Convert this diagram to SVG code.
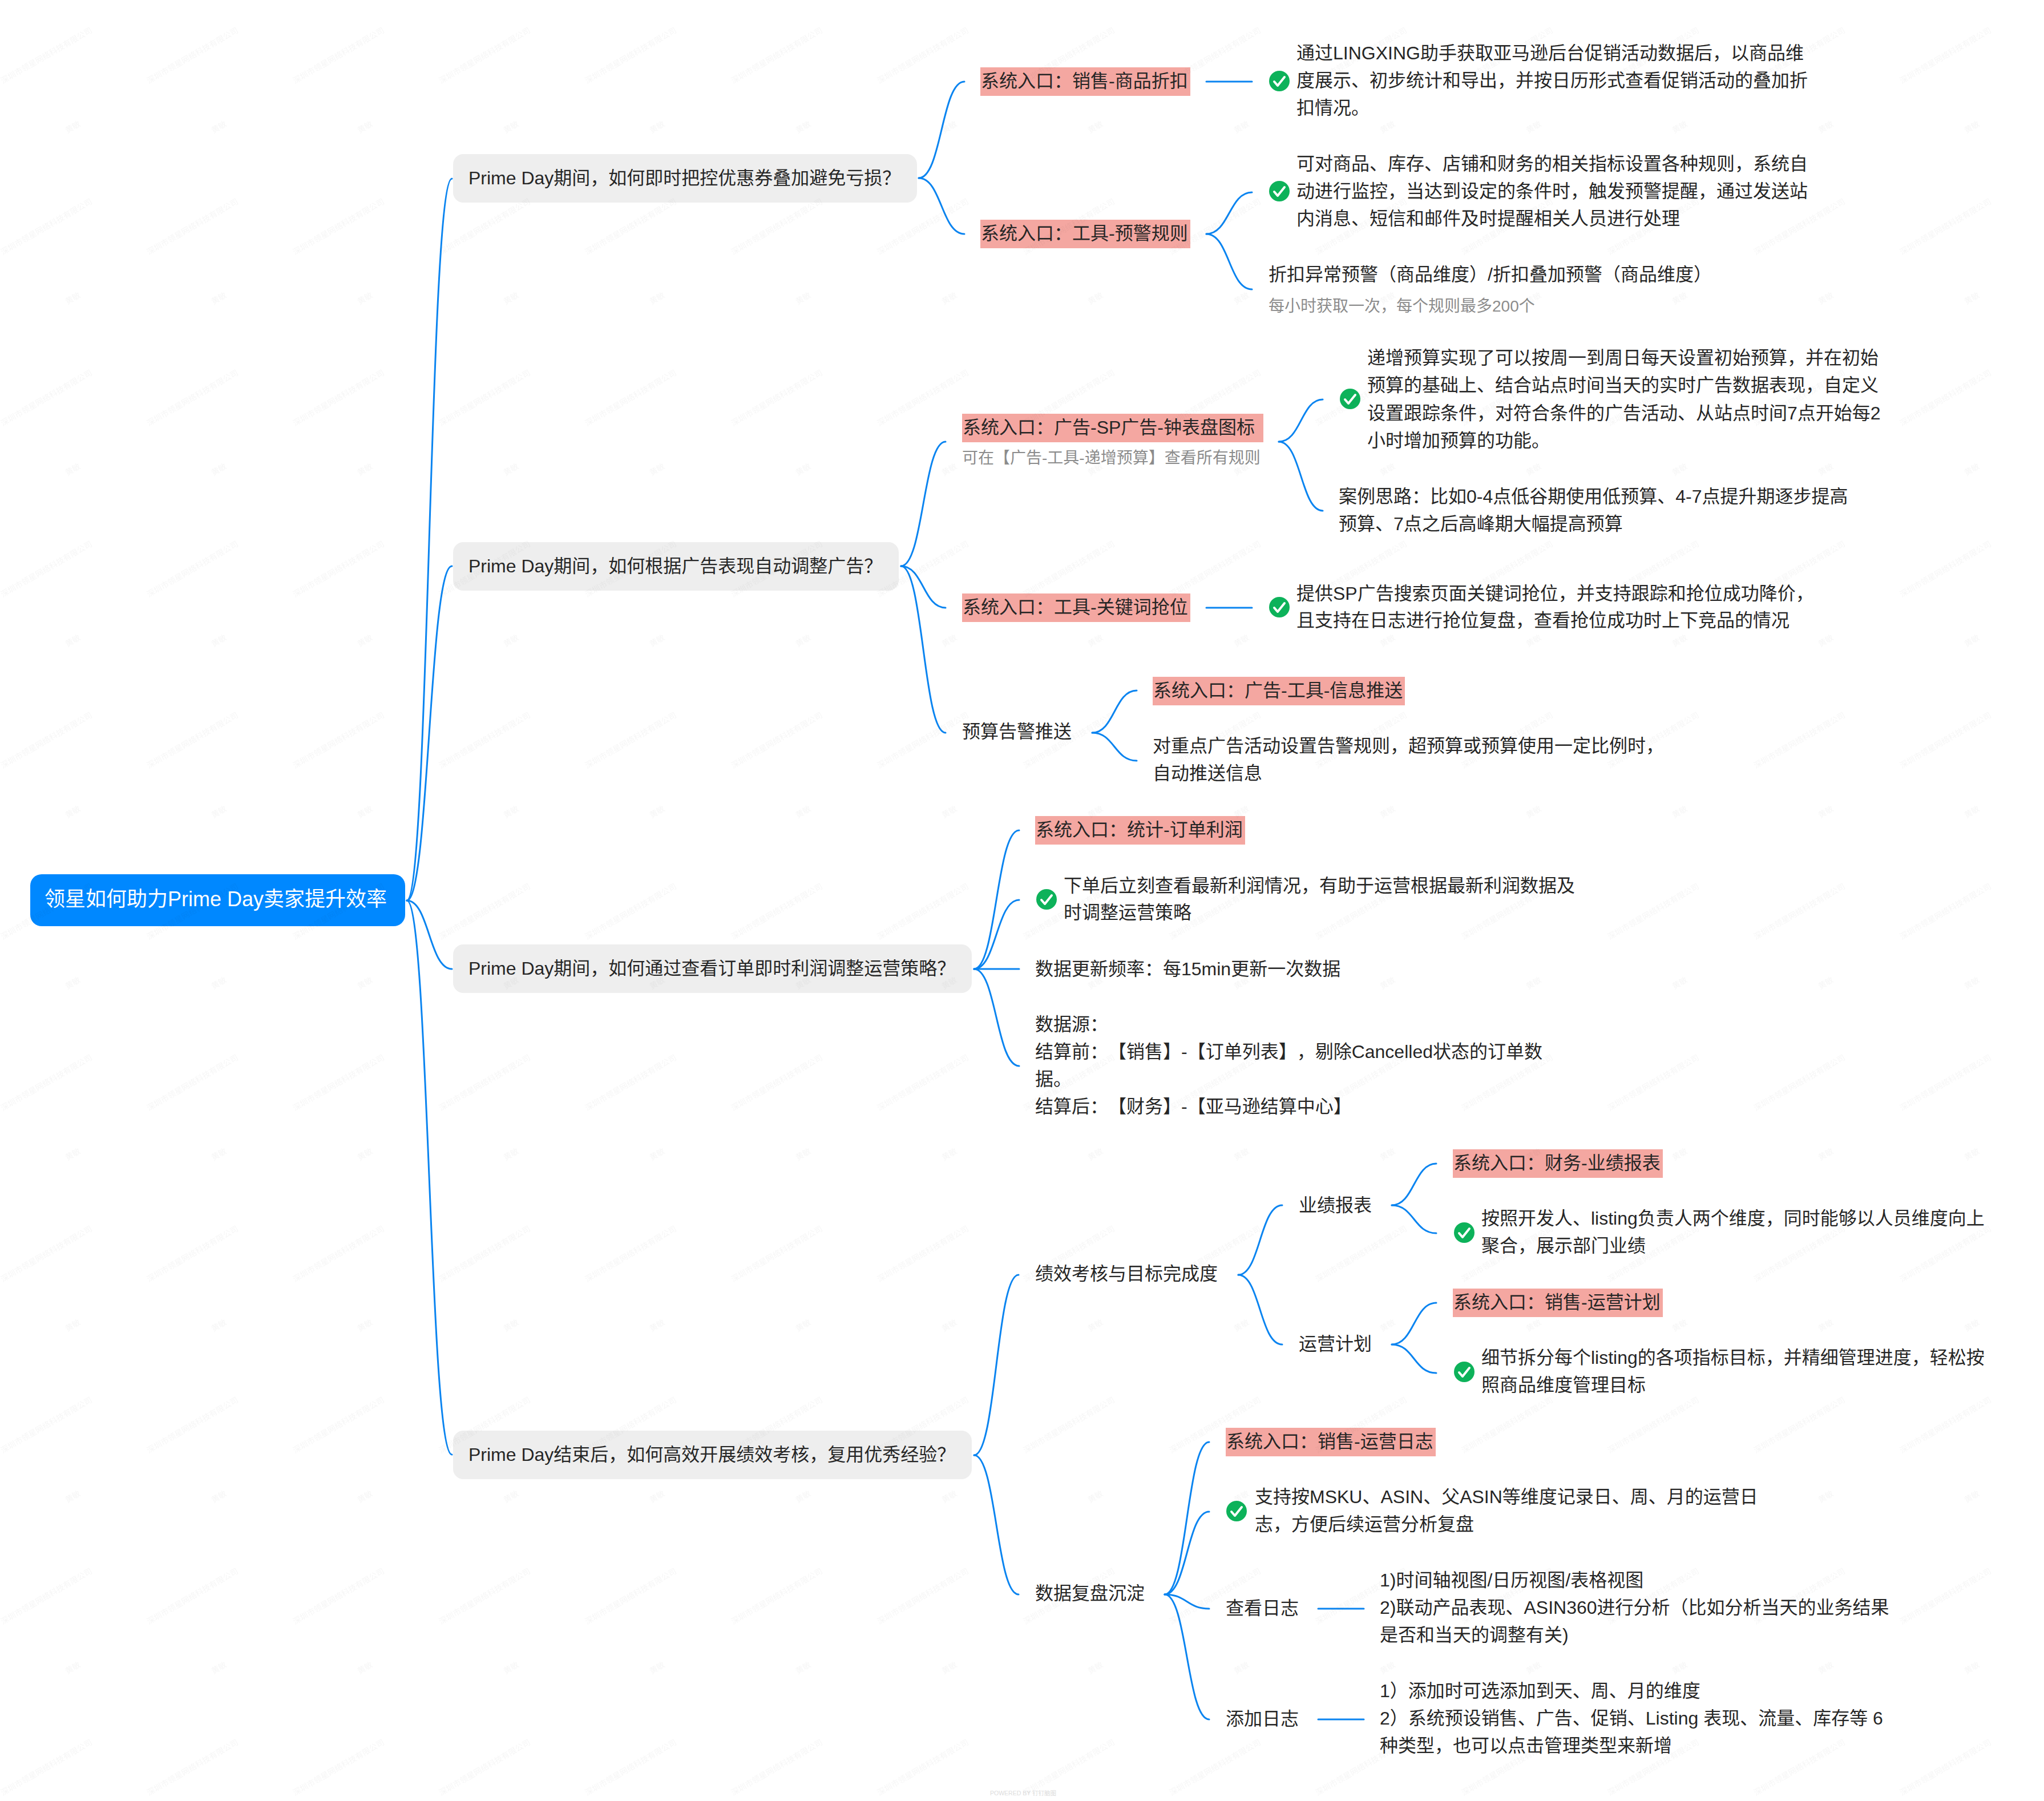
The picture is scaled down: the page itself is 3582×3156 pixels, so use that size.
<svg xmlns="http://www.w3.org/2000/svg" width="3582" height="3156" viewBox="0 0 3582 3156">
<style>
text{font-family:"Liberation Sans","Noto Sans CJK SC",sans-serif;font-size:32px;fill:#262626;text-spacing-trim:space-all}
.root{font-size:36px;fill:#fff}
.note{font-size:28px;fill:#8c8c8c}
.wm{font-size:14px;fill:#000;fill-opacity:.035}
.pw{font-size:10.5px;fill:#dcdcdc}
.c{fill:none;stroke:#0a84f0;stroke-width:3;stroke-linecap:round}
.pink{fill:#f4a7a1}
.box{fill:#eee}
</style>
<defs>
<g id="ok"><circle r="18" fill="#0db25a"/><path d="M-9 1 L-3 8 L9 -7" fill="none" stroke="#fff" stroke-width="4" stroke-linecap="round" stroke-linejoin="round"/></g>
<pattern id="wmark" patternUnits="userSpaceOnUse" width="256" height="300">
<text class="wm" transform="translate(5 147) rotate(-30)">深圳市领星网络科技有限公司</text>
<text class="wm" transform="translate(118 234) rotate(-30)">黄敏</text>
</pattern>
</defs>
<rect width="3582" height="3156" fill="#fff"/>
<g id="connectors">
<path class="c" d="M713 1578C752 1578 752 313 792 313"/>
<path class="c" d="M713 1578C752 1578 752 992 792 992"/>
<path class="c" d="M713 1578C752 1578 752 1698 792 1698"/>
<path class="c" d="M713 1578C752 1578 752 2549 792 2549"/>
<path class="c" d="M1610 312C1650 312 1650 143 1690 143"/>
<path class="c" d="M1610 312C1650 312 1650 410 1690 410"/>
<path class="c" d="M2114 143H2194"/>
<path class="c" d="M2114 410C2154 410 2154 337 2194 337"/>
<path class="c" d="M2114 410C2154 410 2154 507 2194 507"/>
<path class="c" d="M1579 992C1618 992 1618 774 1657 774"/>
<path class="c" d="M1579 992C1618 992 1618 1065 1657 1065"/>
<path class="c" d="M1579 992C1618 992 1618 1284 1657 1284"/>
<path class="c" d="M2241 774C2280 774 2280 700 2318 700"/>
<path class="c" d="M2241 774C2280 774 2280 895 2318 895"/>
<path class="c" d="M2114 1065H2194"/>
<path class="c" d="M1914 1284C1953 1284 1953 1210 1992 1210"/>
<path class="c" d="M1914 1284C1953 1284 1953 1333 1992 1333"/>
<path class="c" d="M1707 1698C1746 1698 1746 1455 1786 1455"/>
<path class="c" d="M1707 1698C1746 1698 1746 1577 1786 1577"/>
<path class="c" d="M1707 1698H1786"/>
<path class="c" d="M1707 1698C1746 1698 1746 1868 1786 1868"/>
<path class="c" d="M1707 2550C1746 2550 1746 2234 1785 2234"/>
<path class="c" d="M1707 2550C1746 2550 1746 2794 1785 2794"/>
<path class="c" d="M2170 2234C2208 2234 2208 2112 2247 2112"/>
<path class="c" d="M2170 2234C2208 2234 2208 2356 2247 2356"/>
<path class="c" d="M2439 2112C2478 2112 2478 2039 2517 2039"/>
<path class="c" d="M2439 2112C2478 2112 2478 2161 2517 2161"/>
<path class="c" d="M2439 2356C2478 2356 2478 2283 2517 2283"/>
<path class="c" d="M2439 2356C2478 2356 2478 2406 2517 2406"/>
<path class="c" d="M2041 2794C2080 2794 2080 2527 2119 2527"/>
<path class="c" d="M2041 2794C2080 2794 2080 2649 2119 2649"/>
<path class="c" d="M2041 2794C2080 2794 2080 2819 2119 2819"/>
<path class="c" d="M2041 2794C2080 2794 2080 3013 2119 3013"/>
<path class="c" d="M2310 2819H2390"/>
<path class="c" d="M2310 3013H2390"/>
</g>
<g id="root"><rect x="53" y="1532" width="657" height="91" rx="20" fill="#0088ff"/><text class="root" x="78" y="1588">领星如何助力Prime Day卖家提升效率</text></g>
<g id="q1"><rect class="box" x="794" y="270" width="813" height="85" rx="18"/><text x="821" y="323">Prime Day期间&#xFF0C;如何即时把控优惠券叠加避免亏损&#xFF1F;</text></g>
<g id="q2"><rect class="box" x="794" y="950" width="781" height="85" rx="18"/><text x="821" y="1003">Prime Day期间&#xFF0C;如何根据广告表现自动调整广告&#xFF1F;</text></g>
<g id="q3"><rect class="box" x="794" y="1655" width="909" height="85" rx="18"/><text x="821" y="1708">Prime Day期间&#xFF0C;如何通过查看订单即时利润调整运营策略&#xFF1F;</text></g>
<g id="q4"><rect class="box" x="794" y="2507" width="909" height="85" rx="18"/><text x="821" y="2560">Prime Day结束后&#xFF0C;如何高效开展绩效考核&#xFF0C;复用优秀经验&#xFF1F;</text></g>

<g id="n-discount"><rect class="pink" x="1718" y="118" width="368" height="50"/><text x="1719" y="153">系统入口&#xFF1A;销售-商品折扣</text></g>
<g id="n-discount-detail"><use href="#ok" x="2242" y="142"/><text x="2272" y="104">通过LINGXING助手获取亚马逊后台促销活动数据后&#xFF0C;以商品维<tspan x="2272" y="152">度展示、初步统计和导出&#xFF0C;并按日历形式查看促销活动的叠加折</tspan><tspan x="2272" y="200">扣情况。</tspan></text></g>
<g id="n-alert"><rect class="pink" x="1718" y="385" width="368" height="50"/><text x="1719" y="420">系统入口&#xFF1A;工具-预警规则</text></g>
<g id="n-alert-detail"><use href="#ok" x="2242" y="335"/><text x="2272" y="298">可对商品、库存、店铺和财务的相关指标设置各种规则&#xFF0C;系统自<tspan x="2272" y="346">动进行监控&#xFF0C;当达到设定的条件时&#xFF0C;触发预警提醒&#xFF0C;通过发送站</tspan><tspan x="2272" y="394">内消息、短信和邮件及时提醒相关人员进行处理</tspan></text></g>
<g id="n-alert-type"><text x="2223" y="492">折扣异常预警&#xFF08;商品维度&#xFF09;/折扣叠加预警&#xFF08;商品维度&#xFF09;</text><text class="note" x="2223" y="546">每小时获取一次&#xFF0C;每个规则最多200个</text></g>

<g id="n-clock"><rect class="pink" x="1686" y="725" width="528" height="50"/><text x="1687" y="760">系统入口&#xFF1A;广告-SP广告-钟表盘图标</text><text class="note" x="1686" y="812">可在【广告-工具-递增预算】查看所有规则</text></g>
<g id="n-clock-detail"><use href="#ok" x="2366" y="699"/><text x="2396" y="638">递增预算实现了可以按周一到周日每天设置初始预算&#xFF0C;并在初始<tspan x="2396" y="686">预算的基础上、结合站点时间当天的实时广告数据表现&#xFF0C;自定义</tspan><tspan x="2396" y="735">设置跟踪条件&#xFF0C;对符合条件的广告活动、从站点时间7点开始每2</tspan><tspan x="2396" y="783">小时增加预算的功能。</tspan></text></g>
<g id="n-clock-case"><text x="2346" y="881">案例思路&#xFF1A;比如0-4点低谷期使用低预算、4-7点提升期逐步提高<tspan x="2346" y="929">预算、7点之后高峰期大幅提高预算</tspan></text></g>
<g id="n-keyword"><rect class="pink" x="1686" y="1040" width="400" height="50"/><text x="1687" y="1075">系统入口&#xFF1A;工具-关键词抢位</text></g>
<g id="n-keyword-detail"><use href="#ok" x="2242" y="1064"/><text x="2272" y="1051">提供SP广告搜索页面关键词抢位&#xFF0C;并支持跟踪和抢位成功降价&#xFF0C;<tspan x="2272" y="1098">且支持在日志进行抢位复盘&#xFF0C;查看抢位成功时上下竞品的情况</tspan></text></g>
<g id="n-budget"><text x="1686" y="1293">预算告警推送</text></g>
<g id="n-push"><rect class="pink" x="2020" y="1186" width="442" height="50"/><text x="2021" y="1221">系统入口&#xFF1A;广告-工具-信息推送</text></g>
<g id="n-push-detail"><text x="2020" y="1318">对重点广告活动设置告警规则&#xFF0C;超预算或预算使用一定比例时&#xFF0C;<tspan x="2020" y="1366">自动推送信息</tspan></text></g>

<g id="n-profit"><rect class="pink" x="1814" y="1430" width="368" height="50"/><text x="1815" y="1465">系统入口&#xFF1A;统计-订单利润</text></g>
<g id="n-profit-detail"><use href="#ok" x="1834" y="1576"/><text x="1864" y="1563">下单后立刻查看最新利润情况&#xFF0C;有助于运营根据最新利润数据及<tspan x="1864" y="1610">时调整运营策略</tspan></text></g>
<g id="n-freq"><text x="1814" y="1709">数据更新频率&#xFF1A;每15min更新一次数据</text></g>
<g id="n-source"><text x="1814" y="1806">数据源&#xFF1A;<tspan x="1814" y="1854">结算前&#xFF1A;【销售】-【订单列表】&#xFF0C;剔除Cancelled状态的订单数</tspan><tspan x="1814" y="1902">据。</tspan><tspan x="1814" y="1950">结算后&#xFF1A;【财务】-【亚马逊结算中心】</tspan></text></g>

<g id="n-perf"><text x="1814" y="2243">绩效考核与目标完成度</text></g>
<g id="n-report"><text x="2276" y="2123">业绩报表</text></g>
<g id="n-report-entry"><rect class="pink" x="2546" y="2014" width="368" height="50"/><text x="2547" y="2049">系统入口&#xFF1A;财务-业绩报表</text></g>
<g id="n-report-detail"><use href="#ok" x="2566" y="2160"/><text x="2596" y="2146">按照开发人、listing负责人两个维度&#xFF0C;同时能够以人员维度向上<tspan x="2596" y="2194">聚合&#xFF0C;展示部门业绩</tspan></text></g>
<g id="n-plan"><text x="2276" y="2366">运营计划</text></g>
<g id="n-plan-entry"><rect class="pink" x="2546" y="2258" width="368" height="50"/><text x="2547" y="2293">系统入口&#xFF1A;销售-运营计划</text></g>
<g id="n-plan-detail"><use href="#ok" x="2566" y="2404"/><text x="2596" y="2390">细节拆分每个listing的各项指标目标&#xFF0C;并精细管理进度&#xFF0C;轻松按<tspan x="2596" y="2438">照商品维度管理目标</tspan></text></g>

<g id="n-review"><text x="1814" y="2803">数据复盘沉淀</text></g>
<g id="n-log-entry"><rect class="pink" x="2148" y="2502" width="368" height="50"/><text x="2149" y="2537">系统入口&#xFF1A;销售-运营日志</text></g>
<g id="n-log-detail"><use href="#ok" x="2167" y="2648"/><text x="2199" y="2634">支持按MSKU、ASIN、父ASIN等维度记录日、周、月的运营日<tspan x="2199" y="2682">志&#xFF0C;方便后续运营分析复盘</tspan></text></g>
<g id="n-view"><text x="2148" y="2829">查看日志</text></g>
<g id="n-view-detail"><text x="2418" y="2780">1)时间轴视图/日历视图/表格视图<tspan x="2418" y="2828">2)联动产品表现、ASIN360进行分析&#xFF08;比如分析当天的业务结果</tspan><tspan x="2418" y="2876">是否和当天的调整有关)</tspan></text></g>
<g id="n-add"><text x="2148" y="3023">添加日志</text></g>
<g id="n-add-detail"><text x="2418" y="2974">1&#xFF09;添加时可选添加到天、周、月的维度<tspan x="2418" y="3022">2&#xFF09;系统预设销售、广告、促销、Listing 表现、流量、库存等 6</tspan><tspan x="2418" y="3070">种类型&#xFF0C;也可以点击管理类型来新增</tspan></text></g>
<text class="pw" x="1735" y="3146">POWERED BY 钉钉脑图</text>
<rect id="watermark" width="3582" height="3156" fill="url(#wmark)"/>
</svg>
